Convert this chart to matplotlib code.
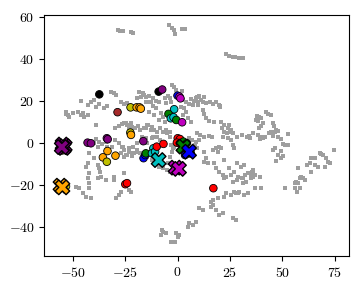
import matplotlib
matplotlib.use("Agg")
import matplotlib.pyplot as plt

plt.rcParams['font.family'] = 'serif'
plt.rcParams['font.serif'] = ['cmr10']
plt.rcParams['mathtext.fontset'] = 'cm'
plt.rcParams['axes.formatter.use_mathtext'] = True
plt.rcParams['font.size'] = 10

# background (gray) embedding points
gray_pts = [
    # top clusters
    (-28.6, 54), (-27.5, 53.6), (-26.2, 53.4), (-22, 52.8), (-21, 52.6),
    (-3.9, 56.3), (-2.6, 55), (-1.5, 53.9), (-1, 51.9), (2.2, 54.4), (3.8, 54.4),
    (23.1, 42.4), (24.7, 41.7), (26.5, 41.3), (27.6, 41.1), (29.5, 40.6), (31.1, 40.5),
    # left band
    (-46, 20.1), (-42.9, 18.2), (-41.3, 19.5), (-38.9, 17.4), (-37.3, 18.6), (-35, 17),
    (-33.4, 17.9), (-39.7, 20.6), (-53.2, 15), (-52.4, 13.5), (-51.6, 12.7), (-50, 14.3),
    (-47.7, 15), (-46, 13.5), (-45.3, 14.3), (-44.5, 12.7), (-42.9, 13.5), (-38.9, 8.7),
    (-53, 13.8),
    (-31.8, 24.6), (-30.2, 23.8), (-29.4, 23), (-18.3, 24.6), (-16.7, 23.8), (-15.9, 23),
    (-17.5, 22.2), (-19.1, 21.4), (-27, 19.5), (-25.4, 18.6), (-23.9, 19), (-25.4, 9.5),
    (-23.9, 8.7), (-22.2, 9.5), (-21.5, 7.9), (-23, 7.1),
    # upper arc
    (-2.7, 27.8), (-1.9, 26.7), (-0.6, 25.4), (2.2, 24.9),
    (-15, 22.2), (-13.4, 22.7), (-11.8, 21.4), (-10.2, 20.1), (-12.6, 19.8), (-14.2, 19.5),
    (-8.6, 19.5), (-6.2, 21.7), (-4.6, 22.7), (-3.8, 21.4), (-5.4, 19), (-3, 19.5),
    (2.5, 20.6), (4.1, 19.5), (6.5, 21.1), (8.1, 20.1), (8.9, 21.7), (9.7, 19.5),
    (10.4, 22.7), (11.2, 20.6), (12, 19.5), (13.6, 19), (15.5, 19.5), (16.8, 18.5),
    (18.4, 19.5), (19.7, 18.2), (20.3, 17.5), (7.3, 18.2), (5.7, 18.5), (10, 18),
    (12.5, 21.8), (9.2, 22.2),
    (-15, 19.5), (-11.8, 17.9), (-10.2, 17), (-13.4, 15.1), (-11, 13.5), (-7.8, 14.3),
    (-7, 12.7), (-8.6, 11.1), (-6.2, 10.3), (1.7, 17.5), (3.3, 16.7), (4.1, 15.1),
    (2.5, 13.5), (4.9, 11.9), (6.5, 10.3), (12, 15.9), (12.8, 13.8), (13.6, 11.9),
    (15.2, 10.6), (17.6, 10), (20.8, 10.3), (20.3, 17.8),
    (22.4, 8.7), (23.9, 7.1), (24.7, 8.7), (25.5, 6.3), (22.4, 5.5),
    (-15, 7.1), (-12.6, 6.3), (-14.2, 8.7), (-5.4, 6.3), (-3.8, 5.5),
    # centre
    (-29.7, 7.1), (-28.1, 8.3), (-26.5, 9.2), (-24.4, 9.8), (-22.2, 7.9), (-20.2, 7.1),
    (-19, 8.3), (-17.8, 6.3), (-15.9, 7.1), (-14.6, 8.7), (-12.2, 7.9), (-11.1, 6.3),
    (-9.8, 5.6), (-8.3, 7.1), (-6.7, 5.6), (-5.1, 4.8), (-3.8, 3.2), (-29.7, 1.6),
    (-31.3, -1.6), (-28.1, 0), (-26.5, -1.6), (-25.4, -3.2), (-23.3, -2.4), (-21.3, -1.6),
    (-19.4, 0), (-21.7, -4.8), (-24.1, -5.6), (-25.7, -6.3), (-19.4, -4), (-17.8, -4.8),
    (-14.6, -6.3), (-12.2, -7.9), (-9.8, -9.5), (-8.6, -11.1), (-6.7, -11.9), (-5.1, -12.7),
    (-3.5, -13.5), (-4.3, -9.5), (-3.5, -6.3), (-2.7, -4), (-1.9, -1.6), (-9.8, 3.2),
    (-8.3, 1.6), (-12.2, 2.4), (-14.6, 0), (-17, 3.2), (-15, 2.4), (-11.8, 3.2),
    (-3, -0.8), (-2.2, -2.4), (5.7, 2.4), (8.9, 0.8), (10.4, 1.6), (6.8, 1.6),
    (8.4, -0.8), (9.2, -2.4), (7.6, -4),
    # left centre / lower left
    (-38.9, 2), (-37.3, 0.8), (-39.7, 0), (-38.1, -1.6), (-35.8, -0.5), (-34.3, 0.8),
    (-33.4, -1.6), (-26.2, -1.6), (-25.4, -3.2), (-27, -4.8), (-24.6, -5.6), (-23, -4),
    (-21.5, -5.9), (-20.7, -4.8), (-19.1, -3.2), (-19.1, 0), (-42.1, -4.8), (-39.7, -7.2),
    (-42.9, -9.5), (-43.7, -11.1), (-38.1, -10.3), (-37.3, -11.9), (-36.9, -13.8),
    (-36.6, -15.9), (-38.1, -16.7), (-42.1, -14.3), (-42.9, -16.7), (-42.1, -19.1),
    (-42.1, -21.4), (-48.4, -20.6), (-46.9, -21.4), (-45.3, -23.8), (-43.7, -25.4),
    (-41.3, -26.2), (-34.3, -17.5), (-30.2, -15.9), (-30.2, -17.5), (-25.4, -14.3),
    (-29.4, -26.2), (-27.8, -24.6), (-27, -23), (-23, -22.2), (-22.3, -23),
    # right lower
    (12.8, -4), (13.6, -7.2), (14.4, -9.5), (12.8, -8.7), (16.8, -3.2), (18.4, -2.4),
    (19.2, -4), (20, -1.6), (20.8, -2.4), (21.6, 3.2), (23.9, 2.4), (25.5, 1.6),
    (26.3, -0.8), (27.1, -2.4), (22.4, -7.9), (17.6, -9.5), (18.4, -11.9), (20, -13.5),
    (21.6, -15.1), (23.1, -15.9), (22.4, -16.7), (25.5, -15.1), (27.1, -13.5),
    (31.1, -16.7), (32.7, -18.3), (31.1, -19.1), (29.5, -23), (27.9, -23.8),
    (25.5, -24.6), (23.1, -23.8), (22.4, -25.4), (19.2, -26.2), (16.8, -27), (16, -27.8),
    (10.4, -31), (12, -31.8), (16, -30.2), (16.8, -29.4), (18.4, -31.8), (20, -34.2),
    (21.6, -33.4), (26.3, -35.7), (27.9, -36.5), (5.7, -38.1), (7.3, -38.9),
    (8.9, -37.6), (4.9, -39.7), (-7, -42.1), (-5.4, -42.9), (-7.8, -43.7), (-3, -46.8),
    (-1.4, -47.2), (-0.7, -42.9), (0.9, -43.7), (0.1, -44.5), (-7.5, -41.3),
    (27.1, -23.4), (31.9, -24.6), (33.5, -23.8), (29, -23.5),
    (26.7, -18.3), (28.3, -17.5), (29, -15.9), (30.6, -16.7), (32.2, -15.1),
    (33.8, -14.3), (35.4, -13.5), (36.2, -12.7), (37, -15.1),
    (28.6, -9.5), (30.2, -11.1), (31.8, -10.3), (24.6, -11.9),
    # right middle band
    (9.5, 5.1), (10.8, 4), (12.7, 3.2), (14.8, 3.5), (16.3, 2.9), (21.1, 7.1), (22.2, 5.6),
    (23.5, 4.8), (25.1, 5.6), (26.7, 4.8), (28.6, 3.2), (30.6, 4), (33, 2.9), (34.3, 3.5),
    (36.2, 4.8), (38.6, 4), (40.2, 3.2), (41.7, 2.9), (43.8, 5.1), (45.7, 5.6),
    (34.4, 2.4), (39.2, 2), (40.8, 2.7), (45.5, 3.6), (47.9, 3.2), (49.5, 2), (50.3, -0.5),
    (51.4, -0.8), (52.7, -0.8), (45.5, -3.2), (46.3, -2.4), (49.5, -3.7), (47.9, -5.6),
    (50.3, -5.9), (49.5, -7.2), (47.1, -8.4),
    (42, 14.8), (43.1, 13.8), (44.4, 13.5), (38.1, 13.2), (39, 12.5), (37.5, 11),
    (38.3, 10.5), (40, 11.8), (41, 9.5), (40, 8), (39, 7.2), (45.5, 9.5), (46, 8),
    (47, 6.5), (47.8, 5.8), (46.3, 5.5), (44.8, 5.5), (52.7, 4.4),
    # far right
    (63.8, -7.2), (63, -9.5), (65.4, -10.3), (67, -11.1), (67.8, -4.8), (68.6, -5.3),
    (71, -7.2), (71.8, -8.7), (72.6, -9.5), (70.5, -11.1), (74.6, -3.2), (63.8, -13.5),
    (57.5, -11.9), (56.7, -18.3), (58.3, -16.7), (59.1, -15.9), (59.9, -16.7),
    (60.7, -17.5), (57.5, -19.1), (55.9, -21.4), (57.1, -23), (58.3, -21.4),
    (55.9, -19.1), (36, -13.5), (35.2, -15.1), (34.9, -16.7), (36, -15.9), (39.2, -15.9),
    (36.8, -21.1), (40, -21.1), (51.1, -21.1), (61.6, -10.3), (65.6, -7.1), (69.5, -5.6),
]

# coloured samples (x, y, colour)
circle_x = [-37.3, -28.6, -22.4, -19.5, -18.1, -17.5, -9.0, -7.3, 0.0, 0.95, 1.4,
            -1.6, -4.3, -3.2, -1.9, -0.6, 2.2, -22.5, -22.2, -16.3, -33.7, -33.3,
            -42.9, -41.3, -55.5, -55.0, -33.4, -35.6, -29.6, -33.7, -53.2,
            -24.9, -24.1, -16.2, -15.4, -15.1, -11.5, -12.2, -10.7, -9.9, -6.7,
            0.1, 1.2, -0.3, 1.2, 2.8, 3.6, 4.4, 3.1, 5.2, 3.6, 6.3, 17.1]
circle_y = [23.3, 14.8, 17.1, 17.1, 17.1, 16.5, 24.6, 25.6, 22.7, 22.2, 21.4,
            16.2, 14.0, 11.9, 12.4, 11.1, 10.0, 5.1, 4.0, 1.0, 2.4, 1.9,
            0.3, 0.0, -2.6, -3.4, -3.7, -6.7, -5.9, -8.8, -20.5,
            -19.5, -19.0, -7.1, -5.6, -4.8, -2.4, -4.8, -4.0, -1.6, -0.3,
            2.4, 2.0, 0.3, 0.0, 0.8, -0.8, 0.0, -3.2, -4.8, -5.6, -4.8, -21.4]
circle_c = ['k', 'brown', 'y', 'orange', 'orange', 'orange', 'k', 'purple', 'b', 'm', 'm',
            'c', 'g', 'c', 'c', 'g', 'm', 'y', 'orange', 'purple', 'purple', 'purple',
            'purple', 'purple', 'brown', 'brown', 'orange', 'orange', 'orange', 'y', 'y',
            'r', 'r', 'b', 'b', 'g', 'c', 'c', 'c', 'r', 'r',
            'r', 'r', 'r', 'r', 'g', 'g', 'g', 'g', 'g', 'b', 'b', 'r']

# centroids
cent_x = [-54.8, -53.8, -54.3, -55.2, -55.8, -54.9, 2.8, 5.5, -9.0, -0.9, 0.7]
cent_y = [-0.6, -1.4, -2.2, -1.8, -20.2, -21.0, -1.6, -4.0, -8.0, -11.6, -12.2]
cent_c = ['purple', 'purple', 'purple', 'purple', 'orange', 'orange', 'g', 'b', 'c', 'm', 'm']

fig = plt.figure(figsize=(3.58, 2.88), dpi=100)
ax = fig.add_axes([0.124, 0.111, 0.852, 0.837])

gx = [p[0] for p in gray_pts]
gy = [p[1] for p in gray_pts]
ax.scatter(gx, gy, s=5, marker='s', color='#9e9e9e', linewidths=0)
ax.scatter(circle_x, circle_y, s=30, c=circle_c, edgecolors='k', linewidths=0.6, zorder=3)
ax.scatter(cent_x, cent_y, s=110, marker='X', c=cent_c, edgecolors='k', linewidths=1.0, zorder=4)

ax.set_xlim(-63.5, 82)
ax.set_ylim(-53.7, 61.1)
ax.set_xticks([-50, -25, 0, 25, 50, 75])
ax.set_yticks([-40, -20, 0, 20, 40, 60])

plt.savefig('out.png', dpi=100)
